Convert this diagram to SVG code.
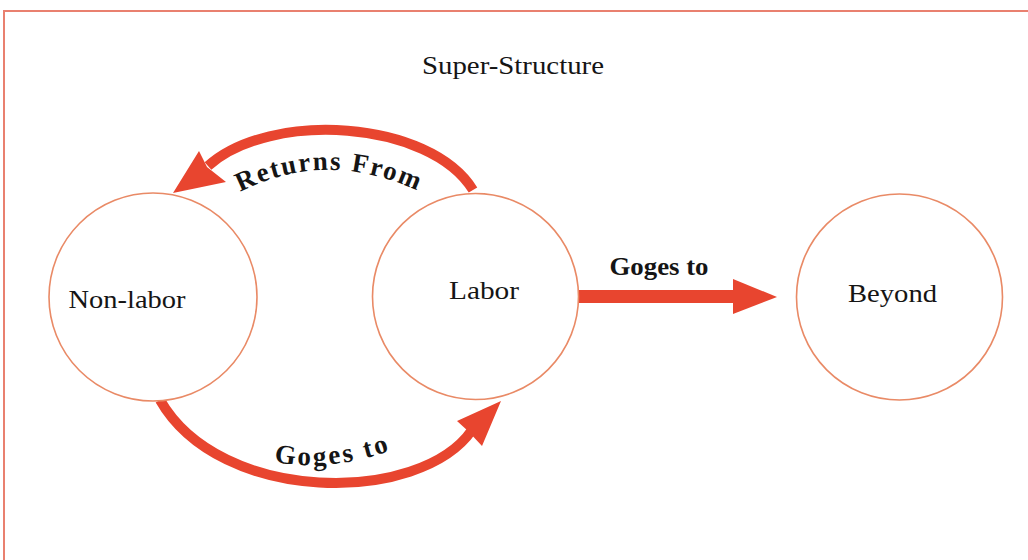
<svg xmlns="http://www.w3.org/2000/svg" width="1028" height="560" viewBox="0 0 1028 560">
  <defs>
    <style>
      .node { fill: #ffffff; stroke: #e98a66; stroke-width: 1.6; }
      .lbl { font-family: "Liberation Serif", "Times New Roman", serif; font-size: 25px; fill: #151515; }
      .blbl { font-family: "Liberation Serif", "Times New Roman", serif; font-size: 25px; font-weight: bold; fill: #151515; }
      .clbl { font-family: "Liberation Serif", "Times New Roman", serif; font-size: 27px; font-weight: bold; fill: #151515; }
      .arc { fill: none; stroke: #e8452f; stroke-width: 10; }
      .head { fill: #e8452f; stroke: none; }
    </style>
    <path id="pReturns" d="M 240,192 Q 332,145 432,198"/>
    <path id="pGoges" d="M 274,462 Q 332,473 398,448"/>
  </defs>
  <rect x="0" y="0" width="1028" height="560" fill="#ffffff"/>
  <rect id="frame" x="4" y="11" width="1040" height="570" fill="none" stroke="#e9806f" stroke-width="2"/>
  <text class="lbl" x="513" y="74" text-anchor="middle" textLength="182" lengthAdjust="spacingAndGlyphs">Super-Structure</text>

  <g id="connectors">
    <g id="returns-from">
      <path class="arc" d="M 473,190 C 430,120 270,110 208,166"/>
      <polygon class="head" points="173,193 199,151 207,167 226,182"/>
      <text class="clbl" letter-spacing="1.8"><textPath href="#pReturns">Returns From</textPath></text>
    </g>
    <g id="goes-to-labor">
      <path class="arc" d="M 160,400 C 220,505 420,505 472,430"/>
      <polygon class="head" points="501,401 457,421 468,431 482,446"/>
      <text class="clbl" letter-spacing="2.5"><textPath href="#pGoges">Goges to</textPath></text>
    </g>
    <g id="goes-to-beyond">
      <rect class="head" x="577" y="290" width="160" height="13"/>
      <polygon class="head" points="733,279 777,297 733,314"/>
      <text class="blbl" x="659" y="275" text-anchor="middle" textLength="99" lengthAdjust="spacingAndGlyphs">Goges to</text>
    </g>
  </g>

  <g id="node-nonlabor">
    <circle class="node" cx="153" cy="297" r="104"/>
    <text class="lbl" x="127" y="308" text-anchor="middle" textLength="117" lengthAdjust="spacingAndGlyphs">Non-labor</text>
  </g>
  <g id="node-labor">
    <circle class="node" cx="475.5" cy="296.5" r="103"/>
    <text class="lbl" x="484" y="299" text-anchor="middle" textLength="70" lengthAdjust="spacingAndGlyphs">Labor</text>
  </g>
  <g id="node-beyond">
    <circle class="node" cx="899.5" cy="297" r="103"/>
    <text class="lbl" x="892.5" y="302" text-anchor="middle" textLength="89" lengthAdjust="spacingAndGlyphs">Beyond</text>
  </g>
</svg>
